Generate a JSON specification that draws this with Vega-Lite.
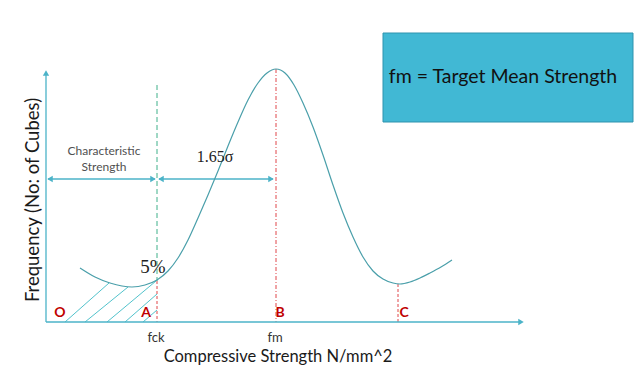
{
  "$schema": "https://vega.github.io/schema/vega-lite/v6.json",
  "width": 640,
  "height": 374,
  "autosize": {"type": "fit", "contains": "padding"},
  "padding": 0,
  "background": "white",
  "view": {"stroke": null},
  "datasets": {
    "curve": [
      {"s": 80, "f": 268}, {"s": 95, "f": 277}, {"s": 110, "f": 283}, {"s": 122, "f": 286},
      {"s": 132, "f": 287}, {"s": 145, "f": 285}, {"s": 157, "f": 280}, {"s": 168, "f": 271},
      {"s": 178, "f": 258}, {"s": 188, "f": 240}, {"s": 198, "f": 218}, {"s": 208, "f": 195},
      {"s": 218, "f": 171}, {"s": 228, "f": 146}, {"s": 238, "f": 122}, {"s": 248, "f": 100},
      {"s": 258, "f": 83}, {"s": 267, "f": 73}, {"s": 276, "f": 69}, {"s": 285, "f": 73},
      {"s": 294, "f": 85}, {"s": 303, "f": 103}, {"s": 313, "f": 127}, {"s": 323, "f": 155},
      {"s": 333, "f": 185}, {"s": 343, "f": 213}, {"s": 353, "f": 237}, {"s": 363, "f": 257},
      {"s": 373, "f": 271}, {"s": 383, "f": 279}, {"s": 393, "f": 283}, {"s": 400, "f": 284},
      {"s": 410, "f": 282}, {"s": 420, "f": 278}, {"s": 430, "f": 273}, {"s": 441, "f": 267},
      {"s": 452, "f": 260}
    ],
    "axes": [
      {"x": 46, "y": 322, "x2": 46, "y2": 74},
      {"x": 46, "y": 322, "x2": 519, "y2": 322},
      {"x": 48, "y": 179, "x2": 155, "y2": 179},
      {"x": 159, "y": 179, "x2": 273, "y2": 179}
    ],
    "hatch": [
      {"x": 65, "y": 322, "x2": 109, "y2": 283},
      {"x": 85, "y": 322, "x2": 128, "y2": 287},
      {"x": 107, "y": 322, "x2": 156, "y2": 281},
      {"x": 125, "y": 322, "x2": 157, "y2": 294},
      {"x": 143, "y": 322, "x2": 157, "y2": 310}
    ],
    "greenDash": [{"x": 157, "y": 85, "x2": 157, "y2": 281}],
    "redDash": [
      {"x": 157, "y": 281, "x2": 157, "y2": 322},
      {"x": 398, "y": 284, "x2": 398, "y2": 322}
    ],
    "redDashDot": [{"x": 276, "y": 69, "x2": 276, "y2": 322}],
    "heads": [
      {"x": 46, "y": 73, "dir": "up"},
      {"x": 521, "y": 322, "dir": "right"},
      {"x": 50, "y": 179, "dir": "left"},
      {"x": 153, "y": 179, "dir": "right"},
      {"x": 161, "y": 179, "dir": "left"},
      {"x": 271, "y": 179, "dir": "right"}
    ],
    "box": [{"x": 383, "y": 33, "x2": 633, "y2": 122}],
    "points": [
      {"label": "O", "x": 60, "y": 313},
      {"label": "A", "x": 146, "y": 313},
      {"label": "B", "x": 280, "y": 313},
      {"label": "C", "x": 404, "y": 313}
    ],
    "ticks": [
      {"label": "fck", "x": 156, "y": 338},
      {"label": "fm", "x": 275, "y": 338}
    ]
  },
  "encoding": {
    "x": {"type": "quantitative", "scale": {"domain": [0, 640], "nice": false, "zero": false}, "axis": null},
    "y": {"type": "quantitative", "scale": {"domain": [0, 374], "reverse": true, "nice": false, "zero": false}, "axis": null}
  },
  "layer": [
    {
      "data": {"name": "box"},
      "mark": {"type": "rect", "fill": "#41B8D4", "stroke": "#2F93AE", "strokeWidth": 1},
      "encoding": {"x": {"field": "x", "type": "quantitative"}, "x2": {"field": "x2"}, "y": {"field": "y", "type": "quantitative"}, "y2": {"field": "y2"}}
    },
    {
      "data": {"name": "hatch"},
      "mark": {"type": "rule", "stroke": "#52C3CC", "strokeWidth": 1},
      "encoding": {"x": {"field": "x", "type": "quantitative"}, "x2": {"field": "x2"}, "y": {"field": "y", "type": "quantitative"}, "y2": {"field": "y2"}}
    },
    {
      "data": {"name": "greenDash"},
      "mark": {"type": "rule", "stroke": "#3FB08A", "strokeWidth": 1, "strokeDash": [5, 3]},
      "encoding": {"x": {"field": "x", "type": "quantitative"}, "x2": {"field": "x2"}, "y": {"field": "y", "type": "quantitative"}, "y2": {"field": "y2"}}
    },
    {
      "data": {"name": "redDash"},
      "mark": {"type": "rule", "stroke": "#E0474A", "strokeWidth": 1, "strokeDash": [3, 2]},
      "encoding": {"x": {"field": "x", "type": "quantitative"}, "x2": {"field": "x2"}, "y": {"field": "y", "type": "quantitative"}, "y2": {"field": "y2"}}
    },
    {
      "data": {"name": "redDashDot"},
      "mark": {"type": "rule", "stroke": "#E0474A", "strokeWidth": 1, "strokeDash": [4, 2, 1, 2]},
      "encoding": {"x": {"field": "x", "type": "quantitative"}, "x2": {"field": "x2"}, "y": {"field": "y", "type": "quantitative"}, "y2": {"field": "y2"}}
    },
    {
      "data": {"name": "axes"},
      "mark": {"type": "rule", "stroke": "#4BB3C8", "strokeWidth": 1.3},
      "encoding": {"x": {"field": "x", "type": "quantitative"}, "x2": {"field": "x2"}, "y": {"field": "y", "type": "quantitative"}, "y2": {"field": "y2"}}
    },
    {
      "data": {"name": "heads"},
      "mark": {"type": "point", "filled": true, "color": "#4BB3C8", "size": 40, "opacity": 1},
      "encoding": {
        "x": {"field": "x", "type": "quantitative"},
        "y": {"field": "y", "type": "quantitative"},
        "shape": {"field": "dir", "type": "nominal", "scale": {"domain": ["up", "right", "left"], "range": ["triangle-up", "triangle-right", "triangle-left"]}, "legend": null}
      }
    },
    {
      "data": {"name": "curve"},
      "mark": {"type": "line", "stroke": "#4A9FAA", "strokeWidth": 1.2, "interpolate": "monotone"},
      "encoding": {"x": {"field": "s", "type": "quantitative"}, "y": {"field": "f", "type": "quantitative"}}
    },
    {
      "data": {"name": "points"},
      "mark": {"type": "text", "font": "Lato", "fontSize": 14, "fontWeight": "bold", "color": "#C00000", "align": "center", "baseline": "middle"},
      "encoding": {"x": {"field": "x", "type": "quantitative"}, "y": {"field": "y", "type": "quantitative"}, "text": {"field": "label"}}
    },
    {
      "data": {"name": "ticks"},
      "mark": {"type": "text", "font": "Lato", "fontSize": 13, "color": "#333333", "align": "center", "baseline": "middle"},
      "encoding": {"x": {"field": "x", "type": "quantitative"}, "y": {"field": "y", "type": "quantitative"}, "text": {"field": "label"}}
    },
    {
      "data": {"values": [{"t": "Compressive Strength N/mm^2", "x": 278, "y": 357}]},
      "mark": {"type": "text", "font": "Lato", "fontSize": 16.5, "color": "#1a1a1a", "align": "center", "baseline": "middle"},
      "encoding": {"x": {"field": "x", "type": "quantitative"}, "y": {"field": "y", "type": "quantitative"}, "text": {"field": "t"}}
    },
    {
      "data": {"values": [{"t": "Frequency (No:  of Cubes)", "x": 33, "y": 200}]},
      "mark": {"type": "text", "font": "Lato", "fontSize": 18.5, "color": "#1a1a1a", "align": "center", "baseline": "middle", "angle": 270},
      "encoding": {"x": {"field": "x", "type": "quantitative"}, "y": {"field": "y", "type": "quantitative"}, "text": {"field": "t"}}
    },
    {
      "data": {"values": [{"t": "Characteristic", "x": 104, "y": 151}, {"t": "Strength", "x": 104, "y": 167}]},
      "mark": {"type": "text", "font": "Lato", "fontSize": 12, "color": "#505050", "align": "center", "baseline": "middle"},
      "encoding": {"x": {"field": "x", "type": "quantitative"}, "y": {"field": "y", "type": "quantitative"}, "text": {"field": "t"}}
    },
    {
      "data": {"values": [{"t": "1.65σ", "x": 215, "y": 157}]},
      "mark": {"type": "text", "font": "Liberation Serif", "fontSize": 16, "color": "#222222", "align": "center", "baseline": "middle"},
      "encoding": {"x": {"field": "x", "type": "quantitative"}, "y": {"field": "y", "type": "quantitative"}, "text": {"field": "t"}}
    },
    {
      "data": {"values": [{"t": "5%", "x": 153, "y": 267}]},
      "mark": {"type": "text", "font": "Liberation Serif", "fontSize": 19, "color": "#222222", "align": "center", "baseline": "middle"},
      "encoding": {"x": {"field": "x", "type": "quantitative"}, "y": {"field": "y", "type": "quantitative"}, "text": {"field": "t"}}
    },
    {
      "data": {"values": [{"t": "fm = Target Mean Strength", "x": 503, "y": 77}]},
      "mark": {"type": "text", "font": "Lato", "fontSize": 19.5, "color": "#111111", "align": "center", "baseline": "middle"},
      "encoding": {"x": {"field": "x", "type": "quantitative"}, "y": {"field": "y", "type": "quantitative"}, "text": {"field": "t"}}
    }
  ]
}
